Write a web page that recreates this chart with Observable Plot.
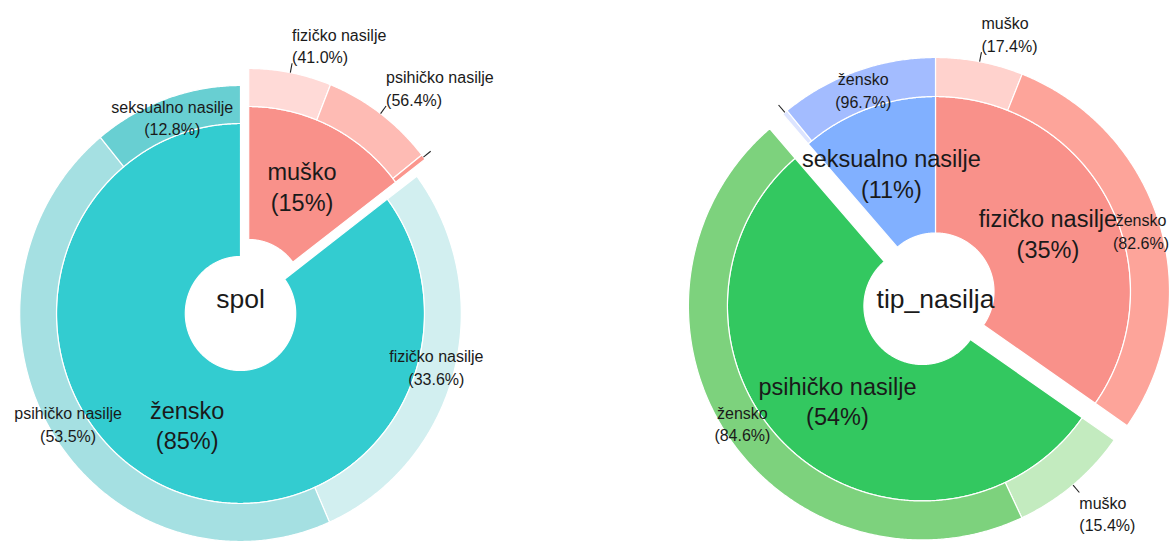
<!DOCTYPE html>
<html><head><meta charset="utf-8">
<script src="https://cdn.jsdelivr.net/npm/d3@7"></script>
<script src="https://cdn.jsdelivr.net/npm/@observablehq/plot@0.6"></script>
<style>
body{margin:0;background:#fff;}
#wrap{display:flex;width:1173px;height:544px;overflow:hidden;}
</style></head><body><div id="wrap"></div>
<script>
// ---- data ----
const spolCategories = ["muško", "žensko"];
const tipCategories = ["fizičko nasilje", "psihičko nasilje", "seksualno nasilje"];
// counts by spol (rows) and tip nasilja (columns), consistent with the printed percentages
const countsMusko = [16, 22, 1];
const countsZensko = [76, 121, 29];

// colours
const spolColors = ["#F9918A", "#33CCD0"];
const spolSubColors = [["#FFDAD7", "#FEBBB4", "#FB968D"], ["#D2EFF0", "#A5E0E2", "#68CFD2"]];
const tipColors = ["#F9918A", "#33C860", "#81B0FF"];
const tipSubColors = [["#FFD2CD", "#FDA49A"], ["#C3EBBF", "#7DD27D"], ["#DCE4FF", "#A3BCFF"]];

const FONT = "'Liberation Sans', Arial, Helvetica, sans-serif";
const TXT = "#1a1a1a";

function buildChart({groups, subs, counts, mainColors, subColors, explode, title, width, cx, cy, rx, ry, titleDy}) {
  const height = 544;
  const total = d3.sum(counts.flat());
  const groupTotals = counts.map(r => d3.sum(r));
  const R0 = 0.3, R1 = 1, R2 = 1.2, RL = 1.1, RT = 1.25, EXP = 0.1;
  const deg = Math.PI / 180;
  const polys = [], innerLabels = [], ringLabels = [], outLabels = [], ticks = [];
  function pushArc(id, t0, t1, r0, r1, ox, oy, fill) {
    const n = Math.max(2, Math.ceil((t1 - t0) / (0.4 * deg)));
    for (let i = 0; i <= n; i++) { const t = t0 + (t1 - t0) * i / n; polys.push({id, x: ox + r1 * Math.sin(t), y: oy + r1 * Math.cos(t), fill}); }
    for (let i = n; i >= 0; i--) { const t = t0 + (t1 - t0) * i / n; polys.push({id, x: ox + r0 * Math.sin(t), y: oy + r0 * Math.cos(t), fill}); }
  }
  let a = 0;
  groups.forEach((g, gi) => {
    const span = groupTotals[gi] / total * 2 * Math.PI;
    const t0 = a, t1 = a + span, tm = (t0 + t1) / 2;
    const ox = gi === explode ? EXP * Math.sin(tm) : 0;
    const oy = gi === explode ? EXP * Math.cos(tm) : 0;
    pushArc(`g${gi}`, t0, t1, R0, R1, ox, oy, mainColors[gi]);
    const rm = (R0 + R1) / 2;
    innerLabels.push({x: ox + rm * Math.sin(tm), y: oy + rm * Math.cos(tm),
      text: `${g}\n(${Math.round(groupTotals[gi] / total * 100)}%)`});
    let b = t0;
    subs.forEach((s, si) => {
      const c = counts[gi][si];
      const s0 = b, s1 = b + c / total * 2 * Math.PI, sm = (s0 + s1) / 2;
      pushArc(`g${gi}s${si}`, s0, s1, R1, R2, ox, oy, subColors[gi][si]);
      const label = `${s}\n(${(c / groupTotals[gi] * 100).toFixed(1)}%)`;
      const ratio = c / total;
      if (ratio >= 0.1) {
        ringLabels.push({x: ox + RL * Math.sin(sm), y: oy + RL * Math.cos(sm), text: label});
      } else {
        const x1 = ox + R2 * Math.sin(sm), y1 = oy + R2 * Math.cos(sm);
        const x2 = ox + RT * Math.sin(sm), y2 = oy + RT * Math.cos(sm);
        ticks.push({x1, y1, x2, y2});
        if (ratio >= 0.02) outLabels.push({x: x2, y: y2, text: label, right: Math.sin(sm) >= 0, top: Math.cos(sm) >= 0});
      }
      b = s1;
    });
    a = t1;
  });
  const outText = (right, top) => Plot.text(outLabels.filter(d => d.right === right && d.top === top), {
    x: "x", y: "y", text: "text", fontSize: 16, lineHeight: 1.42, fill: TXT,
    textAnchor: right ? "start" : "end", lineAnchor: top ? "bottom" : "top"
  });
  return Plot.plot({
    width, height, margin: 0,
    x: {domain: [-cx / rx, (width - cx) / rx], axis: null},
    y: {domain: [(cy - height) / ry, cy / ry], axis: null},
    color: {type: "identity"},
    style: {fontFamily: FONT, background: "white", overflow: "visible"},
    marks: [
      Plot.line(polys, {x: "x", y: "y", z: "id", fill: "fill", stroke: "white", strokeWidth: 1.2, curve: "linear-closed"}),
      Plot.link(ticks, {x1: "x1", y1: "y1", x2: "x2", y2: "y2", stroke: "#222", strokeWidth: 1.1}),
      Plot.text(innerLabels, {x: "x", y: "y", text: "text", fontSize: 23.5, lineHeight: 1.3, fill: TXT}),
      Plot.text(ringLabels, {x: "x", y: "y", text: "text", fontSize: 16, lineHeight: 1.42, fill: TXT}),
      outText(true, true), outText(true, false), outText(false, true), outText(false, false),
      Plot.text([{x: 0, y: 0, text: title}], {x: "x", y: "y", text: "text", fontSize: 26.5, fill: TXT, dy: titleDy})
    ]
  });
}

const wrap = document.getElementById("wrap");
wrap.append(buildChart({
  groups: spolCategories, subs: tipCategories,
  counts: [countsMusko, countsZensko],
  mainColors: spolColors, subColors: spolSubColors, explode: 0, title: "spol",
  width: 586, cx: 240, cy: 313, rx: 184, ry: 190, titleDy: -14
}));
// second chart: tip nasilja → spol (transpose of the same counts)
const countsByTip = tipCategories.map((t, i) => [countsMusko[i], countsZensko[i]]);
wrap.append(buildChart({
  groups: tipCategories, subs: spolCategories,
  counts: countsByTip,
  mainColors: tipColors, subColors: tipSubColors, explode: 1, title: "tip_nasilja",
  width: 587, cx: 349, cy: 291, rx: 195, ry: 195, titleDy: 8
}));
</script></body></html>
